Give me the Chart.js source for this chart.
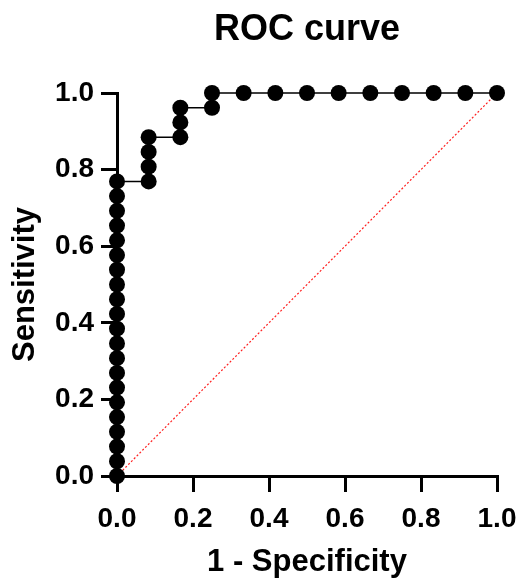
<!DOCTYPE html>
<html>
<head>
<meta charset="utf-8">
<script src="https://cdn.jsdelivr.net/npm/chart.js@4"></script>
<style>
  html, body { margin: 0; padding: 0; background: #fff; }
  #wrap { width: 519px; height: 579px; }
</style>
</head>
<body>
<div id="wrap"><canvas id="roc"></canvas></div>
<script>
// ROC 曲線のデータ (1 - 特異度, 感度)
const fpr = [0, 0, 0, 0, 0, 0, 0, 0, 0, 0, 0, 0, 0, 0, 0, 0, 0, 0, 0, 0, 0,
             0.0833, 0.0833, 0.0833, 0.0833,
             0.1667, 0.1667, 0.1667,
             0.25, 0.25,
             0.3333, 0.4167, 0.5, 0.5833, 0.6667, 0.75, 0.8333, 0.9167, 1.0];
const tpr = [0, 0.0385, 0.0769, 0.1154, 0.1538, 0.1923, 0.2308, 0.2692, 0.3077, 0.3462,
             0.3846, 0.4231, 0.4615, 0.5, 0.5385, 0.5769, 0.6154, 0.6538, 0.6923, 0.7308, 0.7692,
             0.7692, 0.8077, 0.8462, 0.8846,
             0.8846, 0.9231, 0.9615,
             0.9615, 1.0,
             1.0, 1.0, 1.0, 1.0, 1.0, 1.0, 1.0, 1.0, 1.0];
const refX = [0, 1];
const refY = [0, 1];
const tickValues = [0, 0.2, 0.4, 0.6, 0.8, 1.0];
const tickLabels = ['0.0', '0.2', '0.4', '0.6', '0.8', '1.0'];

const FONT = "'Liberation Sans', Arial, sans-serif";

// タイトルをプロット領域の中央に寄せる
const centerTitle = {
    id: 'centerTitle',
    afterLayout(chart) {
        if (!chart.titleBlock) return;
        chart.titleBlock.left = chart.chartArea.left;
        chart.titleBlock.right = chart.chartArea.right;
    }
};

const axisCommon = {
    type: 'linear',
    min: 0,
    max: 1,
    border: { display: true, color: '#000', width: 3 },
    grid: { drawOnChartArea: false, drawTicks: true, tickLength: 16, lineWidth: 3, color: '#000' },
    afterBuildTicks: function(scale) {
        scale.ticks = tickValues.map(v => ({ value: v }));
    }
};

new Chart(document.getElementById('roc'), {
    type: 'scatter',
    data: {
        datasets: [{
            label: 'ROC',
            data: fpr.map((x, i) => ({ x: x, y: tpr[i] })),
            showLine: true,
            borderColor: '#000',
            borderWidth: 1.5,
            pointRadius: 8,
            pointBackgroundColor: '#000',
            pointBorderColor: '#000',
            pointBorderWidth: 0,
            clip: false,
            order: 1
        }, {
            label: 'reference',
            data: refX.map((x, i) => ({ x: x, y: refY[i] })),
            showLine: true,
            borderColor: '#ff2020',
            borderWidth: 1.2,
            borderDash: [2, 2],
            pointRadius: 0,
            clip: false,
            order: 2
        }]
    },
    plugins: [centerTitle],
    options: {
        responsive: true,
        maintainAspectRatio: false,
        animation: false,
        events: [],
        layout: { padding: { left: 0, right: 22, top: 0, bottom: 0 } },
        plugins: {
            legend: { display: false },
            tooltip: { enabled: false },
            title: {
                display: true,
                text: 'ROC curve',
                color: '#000',
                font: { family: FONT, size: 36, weight: 'bold', lineHeight: 1.2 },
                padding: { top: 8, bottom: 41.8 }
            }
        },
        scales: {
            x: Object.assign({}, axisCommon, {
                ticks: {
                    color: '#000', padding: 10,
                    font: { family: FONT, size: 28, weight: 'bold' },
                    maxRotation: 0,
                    callback: (v, i) => tickLabels[i]
                },
                title: {
                    display: true, text: '1 - Specificity', color: '#000',
                    font: { family: FONT, size: 31, weight: 'bold', lineHeight: 1.2 },
                    padding: { top: 0, bottom: -2 }
                },
                afterFit: function(scale) {
                    scale.height = 103;
                    scale.paddingLeft = 0;
                    scale.paddingRight = 0;
                }
            }),
            y: Object.assign({}, axisCommon, {
                ticks: {
                    color: '#000', padding: 7,
                    font: { family: FONT, size: 28, weight: 'bold' },
                    callback: (v, i) => tickLabels[i]
                },
                title: {
                    display: true, text: 'Sensitivity', color: '#000',
                    font: { family: FONT, size: 31, weight: 'bold', lineHeight: 1.2 },
                    padding: { top: 7, bottom: 0 }
                },
                afterFit: function(scale) {
                    scale.width = 117;
                    scale.paddingTop = 0;
                    scale.paddingBottom = 0;
                }
            })
        }
    }
});
</script>
</body>
</html>
